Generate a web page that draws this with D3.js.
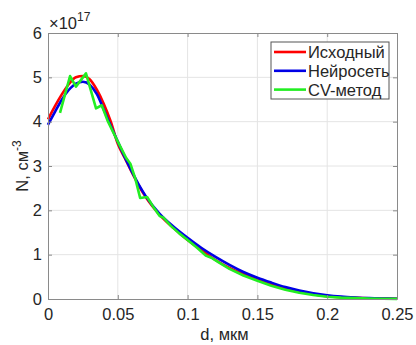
<!DOCTYPE html>
<html>
<head>
<meta charset="utf-8">
<script src="https://cdn.jsdelivr.net/npm/d3@7"></script>
<style>
  body { margin: 0; background: #fff; }
  text { font-family: "Liberation Sans", Arial, sans-serif; fill: #262626; }
</style>
</head>
<body>
<div id="chart"></div>
<script>
// values in units of 1e17 cm^-3, d in мкм
const dRed = [0, 0.005, 0.01, 0.015, 0.02, 0.025, 0.03, 0.035, 0.04, 0.045, 0.05, 0.055, 0.06, 0.065, 0.07, 0.08, 0.09, 0.1, 0.11, 0.12, 0.13, 0.14, 0.15, 0.16, 0.17, 0.18, 0.19, 0.2, 0.21, 0.22, 0.23, 0.24, 0.25];
const nRed = [4.05, 4.35, 4.62, 4.85, 5.0, 5.03, 4.95, 4.72, 4.4, 4.0, 3.5, 3.18, 2.86, 2.56, 2.3, 1.9, 1.6, 1.33, 1.1, 0.88, 0.7, 0.56, 0.44, 0.33, 0.24, 0.17, 0.11, 0.065, 0.04, 0.025, 0.015, 0.01, 0.005];

const dBlue = [0, 0.005, 0.01, 0.015, 0.02, 0.025, 0.03, 0.035, 0.04, 0.045, 0.05, 0.055, 0.06, 0.065, 0.07, 0.08, 0.09, 0.1, 0.11, 0.12, 0.13, 0.14, 0.15, 0.16, 0.17, 0.18, 0.19, 0.2, 0.21, 0.22, 0.23, 0.24, 0.25];
const nBlue = [3.93, 4.22, 4.5, 4.72, 4.86, 4.9, 4.83, 4.62, 4.27, 3.9, 3.55, 3.2, 2.88, 2.58, 2.32, 1.92, 1.63, 1.38, 1.15, 0.95, 0.77, 0.61, 0.48, 0.37, 0.27, 0.19, 0.13, 0.085, 0.055, 0.035, 0.02, 0.012, 0.007];

const dGreen = [0.0086, 0.0158, 0.02, 0.0272, 0.0344, 0.0385, 0.043, 0.05, 0.056, 0.059, 0.0625, 0.066, 0.071, 0.075, 0.08, 0.0825, 0.088, 0.094, 0.1, 0.107, 0.113, 0.117, 0.122, 0.13, 0.14, 0.15, 0.16, 0.17, 0.18, 0.19, 0.2, 0.21, 0.22, 0.23, 0.24, 0.25];
const nGreen = [4.2, 5.03, 4.79, 5.09, 4.3, 4.37, 4.0, 3.55, 3.18, 3.05, 2.72, 2.28, 2.3, 2.1, 1.87, 1.84, 1.65, 1.48, 1.33, 1.15, 0.98, 0.93, 0.83, 0.68, 0.53, 0.41, 0.3, 0.21, 0.14, 0.09, 0.05, 0.03, 0.02, 0.01, 0.005, 0.003];

const xTicks = [0, 0.05, 0.1, 0.15, 0.2, 0.25];
const xTickLabels = ['0', '0.05', '0.1', '0.15', '0.2', '0.25'];
const yTicks = [0, 1, 2, 3, 4, 5, 6];
const seriesNames = ['Исходный', 'Нейросеть', 'CV-метод'];
const seriesColors = ['#ff0000', '#0000e6', '#22ee22'];

const W = 416, H = 345;
const margin = { top: 33, right: 19, bottom: 46, left: 48 };
const w = W - margin.left - margin.right;
const h = H - margin.top - margin.bottom;
const fs = 16.5;

const svg = d3.select('#chart').append('svg')
  .attr('width', W)
  .attr('height', H);

const x = d3.scaleLinear().domain([0, 0.25]).range([0, w]);
const y = d3.scaleLinear().domain([0, 6]).range([h, 0]);

const g = svg.append('g')
  .attr('transform', 'translate(' + margin.left + ',' + margin.top + ')');

// grid
g.append('g').selectAll('line')
  .data(xTicks.slice(1, -1))
  .enter().append('line')
  .attr('x1', d => x(d)).attr('x2', d => x(d))
  .attr('y1', 0).attr('y2', h)
  .attr('stroke', '#e4e4e4').attr('stroke-width', 1);
g.append('g').selectAll('line')
  .data(yTicks.slice(1, -1))
  .enter().append('line')
  .attr('x1', 0).attr('x2', w)
  .attr('y1', d => y(d)).attr('y2', d => y(d))
  .attr('stroke', '#e4e4e4').attr('stroke-width', 1);

// lines
const series = [
  { name: seriesNames[0], d: dRed, n: nRed, color: seriesColors[0], curve: d3.curveMonotoneX },
  { name: seriesNames[1], d: dBlue, n: nBlue, color: seriesColors[1], curve: d3.curveMonotoneX },
  { name: seriesNames[2], d: dGreen, n: nGreen, color: seriesColors[2], curve: d3.curveLinear }
];

series.forEach(s => {
  const pts = s.d.map((d, i) => [d, s.n[i]]);
  const line = d3.line()
    .x(p => x(p[0]))
    .y(p => y(p[1]))
    .curve(s.curve);
  g.append('path')
    .datum(pts)
    .attr('fill', 'none')
    .attr('stroke', s.color)
    .attr('stroke-width', 2.6)
    .attr('stroke-linejoin', 'round')
    .attr('d', line);
});

// axes
const xAxis = d3.axisBottom(x).tickValues(xTicks)
  .tickFormat((d, i) => xTickLabels[i]).tickSizeInner(-4).tickSizeOuter(0).tickPadding(9);
const yAxis = d3.axisLeft(y).tickValues(yTicks).tickFormat(d3.format('d'))
  .tickSizeInner(-4).tickSizeOuter(0).tickPadding(6);

const gx = g.append('g').attr('transform', 'translate(0,' + h + ')').call(xAxis);
const gy = g.append('g').call(yAxis);
const gxt = g.append('g').call(d3.axisTop(x).tickValues(xTicks).tickSizeInner(-4).tickSizeOuter(0).tickFormat(''));
const gyr = g.append('g').attr('transform', 'translate(' + w + ',0)')
  .call(d3.axisRight(y).tickValues(yTicks).tickSizeInner(-4).tickSizeOuter(0).tickFormat(''));

[gx, gy, gxt, gyr].forEach(a => {
  a.select('.domain').attr('stroke', '#8a8a8a').attr('stroke-width', 1);
  a.selectAll('.tick line').attr('stroke', '#8a8a8a');
  a.selectAll('.tick text').attr('font-size', fs).attr('fill', '#262626')
    .attr('font-family', '"Liberation Sans", Arial, sans-serif');
});

// axis labels
svg.append('text')
  .attr('x', margin.left + w / 2 + 2)
  .attr('y', 340)
  .attr('text-anchor', 'middle')
  .attr('font-size', fs)
  .text('d, мкм');

const yl = svg.append('text')
  .attr('transform', 'translate(28,' + (margin.top + h / 2) + ') rotate(-90)')
  .attr('text-anchor', 'middle')
  .attr('font-size', fs);
yl.append('tspan').text('N, см');
yl.append('tspan').attr('dy', -7).attr('font-size', 12).text('-3');

// exponent
const ex = svg.append('text')
  .attr('x', 49)
  .attr('y', 29)
  .attr('font-size', fs);
ex.append('tspan').text('\u00d710');
ex.append('tspan').attr('dy', -8).attr('font-size', 12).text('17');

// legend
const lg = svg.append('g').attr('transform', 'translate(271,42)');
lg.append('rect')
  .attr('width', 118).attr('height', 57)
  .attr('fill', '#fff').attr('stroke', '#555').attr('stroke-width', 1);
series.forEach((s, i) => {
  const yy = 10 + i * 18.8;
  lg.append('line')
    .attr('x1', 3).attr('x2', 35)
    .attr('y1', yy).attr('y2', yy)
    .attr('stroke', s.color).attr('stroke-width', 2.6);
  lg.append('text')
    .attr('x', 37).attr('y', yy + 6)
    .attr('font-size', fs)
    .text(s.name);
});
</script>
</body>
</html>
